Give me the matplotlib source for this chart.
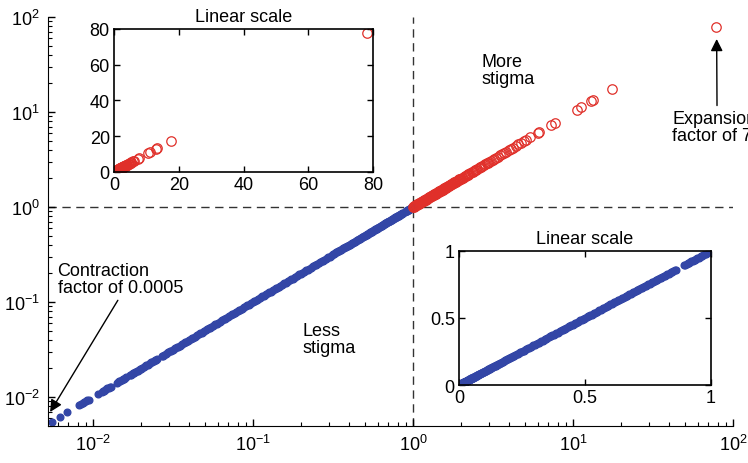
import matplotlib
matplotlib.use("Agg")
import matplotlib.pyplot as plt
from matplotlib.ticker import LogLocator, NullFormatter

plt.rcParams['font.family'] = ['Liberation Sans', 'DejaVu Sans']
plt.rcParams['mathtext.fontset'] = 'custom'
plt.rcParams['mathtext.rm'] = 'Liberation Sans'
plt.rcParams['mathtext.it'] = 'Liberation Sans:italic'
plt.rcParams['font.size'] = 12

# stigma ratios below 1 (contraction)
less = [
    0.0055, 0.0062, 0.0069,
    0.0082, 0.0084, 0.0086, 0.0088, 0.0090, 0.0092, 0.0094,
    0.0107,
    0.0113, 0.0115, 0.0117, 0.0119, 0.0121, 0.0123, 0.0125, 0.0127, 0.0129,
    0.0141, 0.0143, 0.0146, 0.0148, 0.0151, 0.0153, 0.0156, 0.0158, 0.0161,
    0.0169, 0.0172, 0.0175, 0.0178, 0.0181, 0.0184, 0.0187, 0.0190, 0.0193,
    0.0196, 0.0199, 0.0203, 0.0207, 0.0211, 0.0215, 0.0219, 0.0223, 0.0227,
    0.0231, 0.0235, 0.0239, 0.0243, 0.0247, 0.0250,
    0.0268, 0.0273, 0.0278, 0.0284, 0.0290, 0.0296, 0.0302, 0.0308, 0.0314,
    0.0320, 0.0327, 0.0333, 0.0340, 0.0347, 0.0354, 0.0361, 0.0368, 0.0376,
    0.0383, 0.0391, 0.0399, 0.0407, 0.0415, 0.0423, 0.0432, 0.0440, 0.0449,
    0.0458, 0.0467, 0.0477, 0.0486, 0.0496, 0.0506, 0.0516, 0.0527, 0.0537,
    0.0548, 0.0559, 0.0570, 0.0582, 0.0593, 0.0605, 0.0618, 0.0630, 0.0643,
    0.0656, 0.0669, 0.0682, 0.0696, 0.0710, 0.0724, 0.0739, 0.0753, 0.0769,
    0.0784, 0.0800, 0.0816, 0.0832, 0.0849, 0.0866, 0.0883, 0.0901, 0.0919,
    0.0937, 0.0956, 0.0975, 0.0995, 0.1015, 0.1035, 0.1056, 0.1077, 0.1099,
    0.1121, 0.1143, 0.1166, 0.1189, 0.1213, 0.1237, 0.1262, 0.1287, 0.1313,
    0.1339, 0.1366, 0.1393, 0.1421, 0.1450, 0.1479, 0.1508, 0.1538, 0.1569,
    0.1600, 0.1632, 0.1665, 0.1698, 0.1732, 0.1767, 0.1802, 0.1838, 0.1875,
    0.1913, 0.1951, 0.1990, 0.2030, 0.2070, 0.2112, 0.2154, 0.2197, 0.2241,
    0.2286, 0.2332, 0.2378, 0.2426, 0.2474, 0.2524, 0.2574, 0.2626, 0.2678,
    0.2732, 0.2786, 0.2842, 0.2899, 0.2957,
    0.301, 0.306, 0.312, 0.317, 0.321, 0.326, 0.332, 0.337, 0.341, 0.346,
    0.351, 0.357, 0.362, 0.366, 0.371, 0.376, 0.382, 0.387, 0.391, 0.396,
    0.401, 0.407, 0.412, 0.416, 0.421, 0.426, 0.432, 0.437, 0.441, 0.446,
    0.451, 0.457, 0.462, 0.466, 0.471, 0.476, 0.482, 0.487, 0.491, 0.496,
    0.501, 0.507, 0.512, 0.516, 0.521, 0.526, 0.532, 0.537, 0.541, 0.546,
    0.551, 0.557, 0.562, 0.566, 0.571, 0.576, 0.582, 0.587, 0.591, 0.596,
    0.601, 0.607, 0.612, 0.616, 0.621, 0.626, 0.632, 0.637, 0.641, 0.646,
    0.651, 0.657, 0.662, 0.666, 0.671, 0.676, 0.682, 0.687, 0.691, 0.696,
    0.701, 0.707, 0.712, 0.716, 0.721, 0.726, 0.732, 0.737, 0.741, 0.746,
    0.751, 0.757, 0.762, 0.766, 0.771, 0.776, 0.782, 0.787, 0.791, 0.796,
    0.801, 0.807, 0.812, 0.816, 0.821, 0.826, 0.832, 0.837, 0.841, 0.846,
    0.851, 0.856, 0.861,
    0.893, 0.898, 0.903, 0.907, 0.912, 0.917, 0.922, 0.927, 0.931, 0.936,
    0.941, 0.946, 0.951, 0.955, 0.960, 0.965, 0.970, 0.975, 0.979, 0.984,
    0.989, 0.994, 0.998,
]

# stigma ratios above 1 (expansion)
more = [
    1.000, 1.008, 1.016, 1.024, 1.032, 1.041, 1.049, 1.058, 1.066, 1.075,
    1.084, 1.093, 1.102, 1.111, 1.120, 1.129, 1.139, 1.148, 1.158, 1.168,
    1.177, 1.187, 1.197, 1.207, 1.218, 1.228, 1.238, 1.249, 1.260, 1.270,
    1.281, 1.292, 1.303, 1.315, 1.326, 1.338, 1.349, 1.361, 1.373, 1.385,
    1.397, 1.410, 1.422, 1.435, 1.448, 1.461, 1.474, 1.487, 1.500, 1.514,
    1.528, 1.542, 1.556, 1.570, 1.585, 1.600, 1.615, 1.630, 1.645, 1.661,
    1.677, 1.693, 1.709, 1.726, 1.743, 1.760, 1.777, 1.795, 1.813, 1.831,
    1.85, 1.87, 1.89, 1.91, 1.93, 1.95, 1.97, 1.99, 2.02, 2.04, 2.07,
    2.10, 2.13, 2.16, 2.19, 2.22, 2.25, 2.28, 2.32, 2.36, 2.40, 2.44,
    2.48, 2.52, 2.57, 2.62, 2.66, 2.71, 2.76, 2.82, 2.88, 2.94, 3.00,
    3.07, 3.15, 3.22, 3.31, 3.40, 3.49, 3.60, 3.72, 3.82, 3.95, 4.08,
    4.22, 4.38, 4.55, 4.72, 4.95, 5.1, 5.4, 6.0, 6.1, 7.3, 7.7, 10.6,
    11.2, 13.0, 13.4, 17.5, 78.0,
]

blue = '#3346A6'
red = '#E0302A'

fig = plt.figure(figsize=(7.48, 4.64), dpi=100)

ax = fig.add_axes([0.0642, 0.0797, 0.9158, 0.8815])
ax.set_xscale('log')
ax.set_yscale('log')
ax.axhline(1, color='#333333', lw=1, ls=(0, (6, 4)), zorder=1)
ax.axvline(1, color='#333333', lw=1, ls=(0, (6, 4)), zorder=1)
ax.plot(less, less, 'o', color=blue, ms=4.8, mec=blue, zorder=2)
ax.plot(more, more, 'o', color=red, ms=6.8, mfc='none', mec=red, mew=0.9, zorder=3)
ax.set_xlim(0.00523, 100)
ax.set_ylim(0.00495, 100)
for s in ('top', 'right'):
    ax.spines[s].set_visible(False)
ax.xaxis.set_major_locator(LogLocator(base=10, numticks=10))
ax.yaxis.set_major_locator(LogLocator(base=10, numticks=10))
ax.xaxis.set_minor_locator(LogLocator(base=10, subs=range(2, 10), numticks=20))
ax.yaxis.set_minor_locator(LogLocator(base=10, subs=range(2, 10), numticks=20))
ax.xaxis.set_minor_formatter(NullFormatter())
ax.yaxis.set_minor_formatter(NullFormatter())
ax.tick_params(which='major', direction='in', length=5, width=1, labelsize=13, pad=6)
ax.tick_params(which='minor', direction='in', length=3, width=0.8)

ax.text(2.66, 27.7, 'More\nstigma', ha='left', va='center', fontsize=13, linespacing=1.05)
ax.text(0.205, 0.0408, 'Less\nstigma', ha='left', va='center', fontsize=13, linespacing=1.05)
ax.annotate('Contraction\nfactor of 0.0005', xy=(0.00539, 0.00695), xytext=(0.0060, 0.1746),
            ha='left', va='center', fontsize=13, linespacing=1.05,
            arrowprops=dict(arrowstyle='-|>', color='k', lw=1, mutation_scale=18,
                            shrinkA=1, shrinkB=0, relpos=(0.5, 0.0)))
ax.annotate('Expansion\nfactor of 78', xy=(79, 58.7), xytext=(41.6, 6.95),
            ha='left', va='center', fontsize=13, linespacing=1.05,
            annotation_clip=False,
            arrowprops=dict(arrowstyle='-|>', color='k', lw=1, mutation_scale=18,
                            shrinkA=1, shrinkB=0, relpos=(0.5, 1.0)))

# inset: expansion on a linear scale
ins1 = fig.add_axes([0.1524, 0.6272, 0.3463, 0.3082])
ins1.plot(less, less, 'o', color=blue, ms=3, mec=blue)
ins1.plot(more, more, 'o', color=red, ms=6.8, mfc='none', mec=red, mew=0.9)
ins1.set_xlim(0, 80)
ins1.set_ylim(0, 80)
ins1.set_xticks([0, 20, 40, 60, 80])
ins1.set_yticks([0, 20, 40, 60, 80])
ins1.set_title('Linear scale', fontsize=13, pad=6)

# inset: contraction on a linear scale
ins2 = fig.add_axes([0.6136, 0.1681, 0.3369, 0.2888])
ins2.plot(less, less, 'o', color=blue, ms=4.8, mec=blue)
ins2.set_xlim(0, 1)
ins2.set_ylim(0, 1)
ins2.set_xticks([0, 0.5, 1])
ins2.set_yticks([0, 0.5, 1])
ins2.set_xticklabels(['0', '0.5', '1'])
ins2.set_yticklabels(['0', '0.5', '1'])
ins2.set_title('Linear scale', fontsize=13, pad=6)

for a in (ins1, ins2):
    a.tick_params(direction='in', length=4, width=1, top=True, right=True, labelsize=13, pad=3)
    for s in a.spines.values():
        s.set_linewidth(1.2)

fig.savefig('out.png', dpi=100)
